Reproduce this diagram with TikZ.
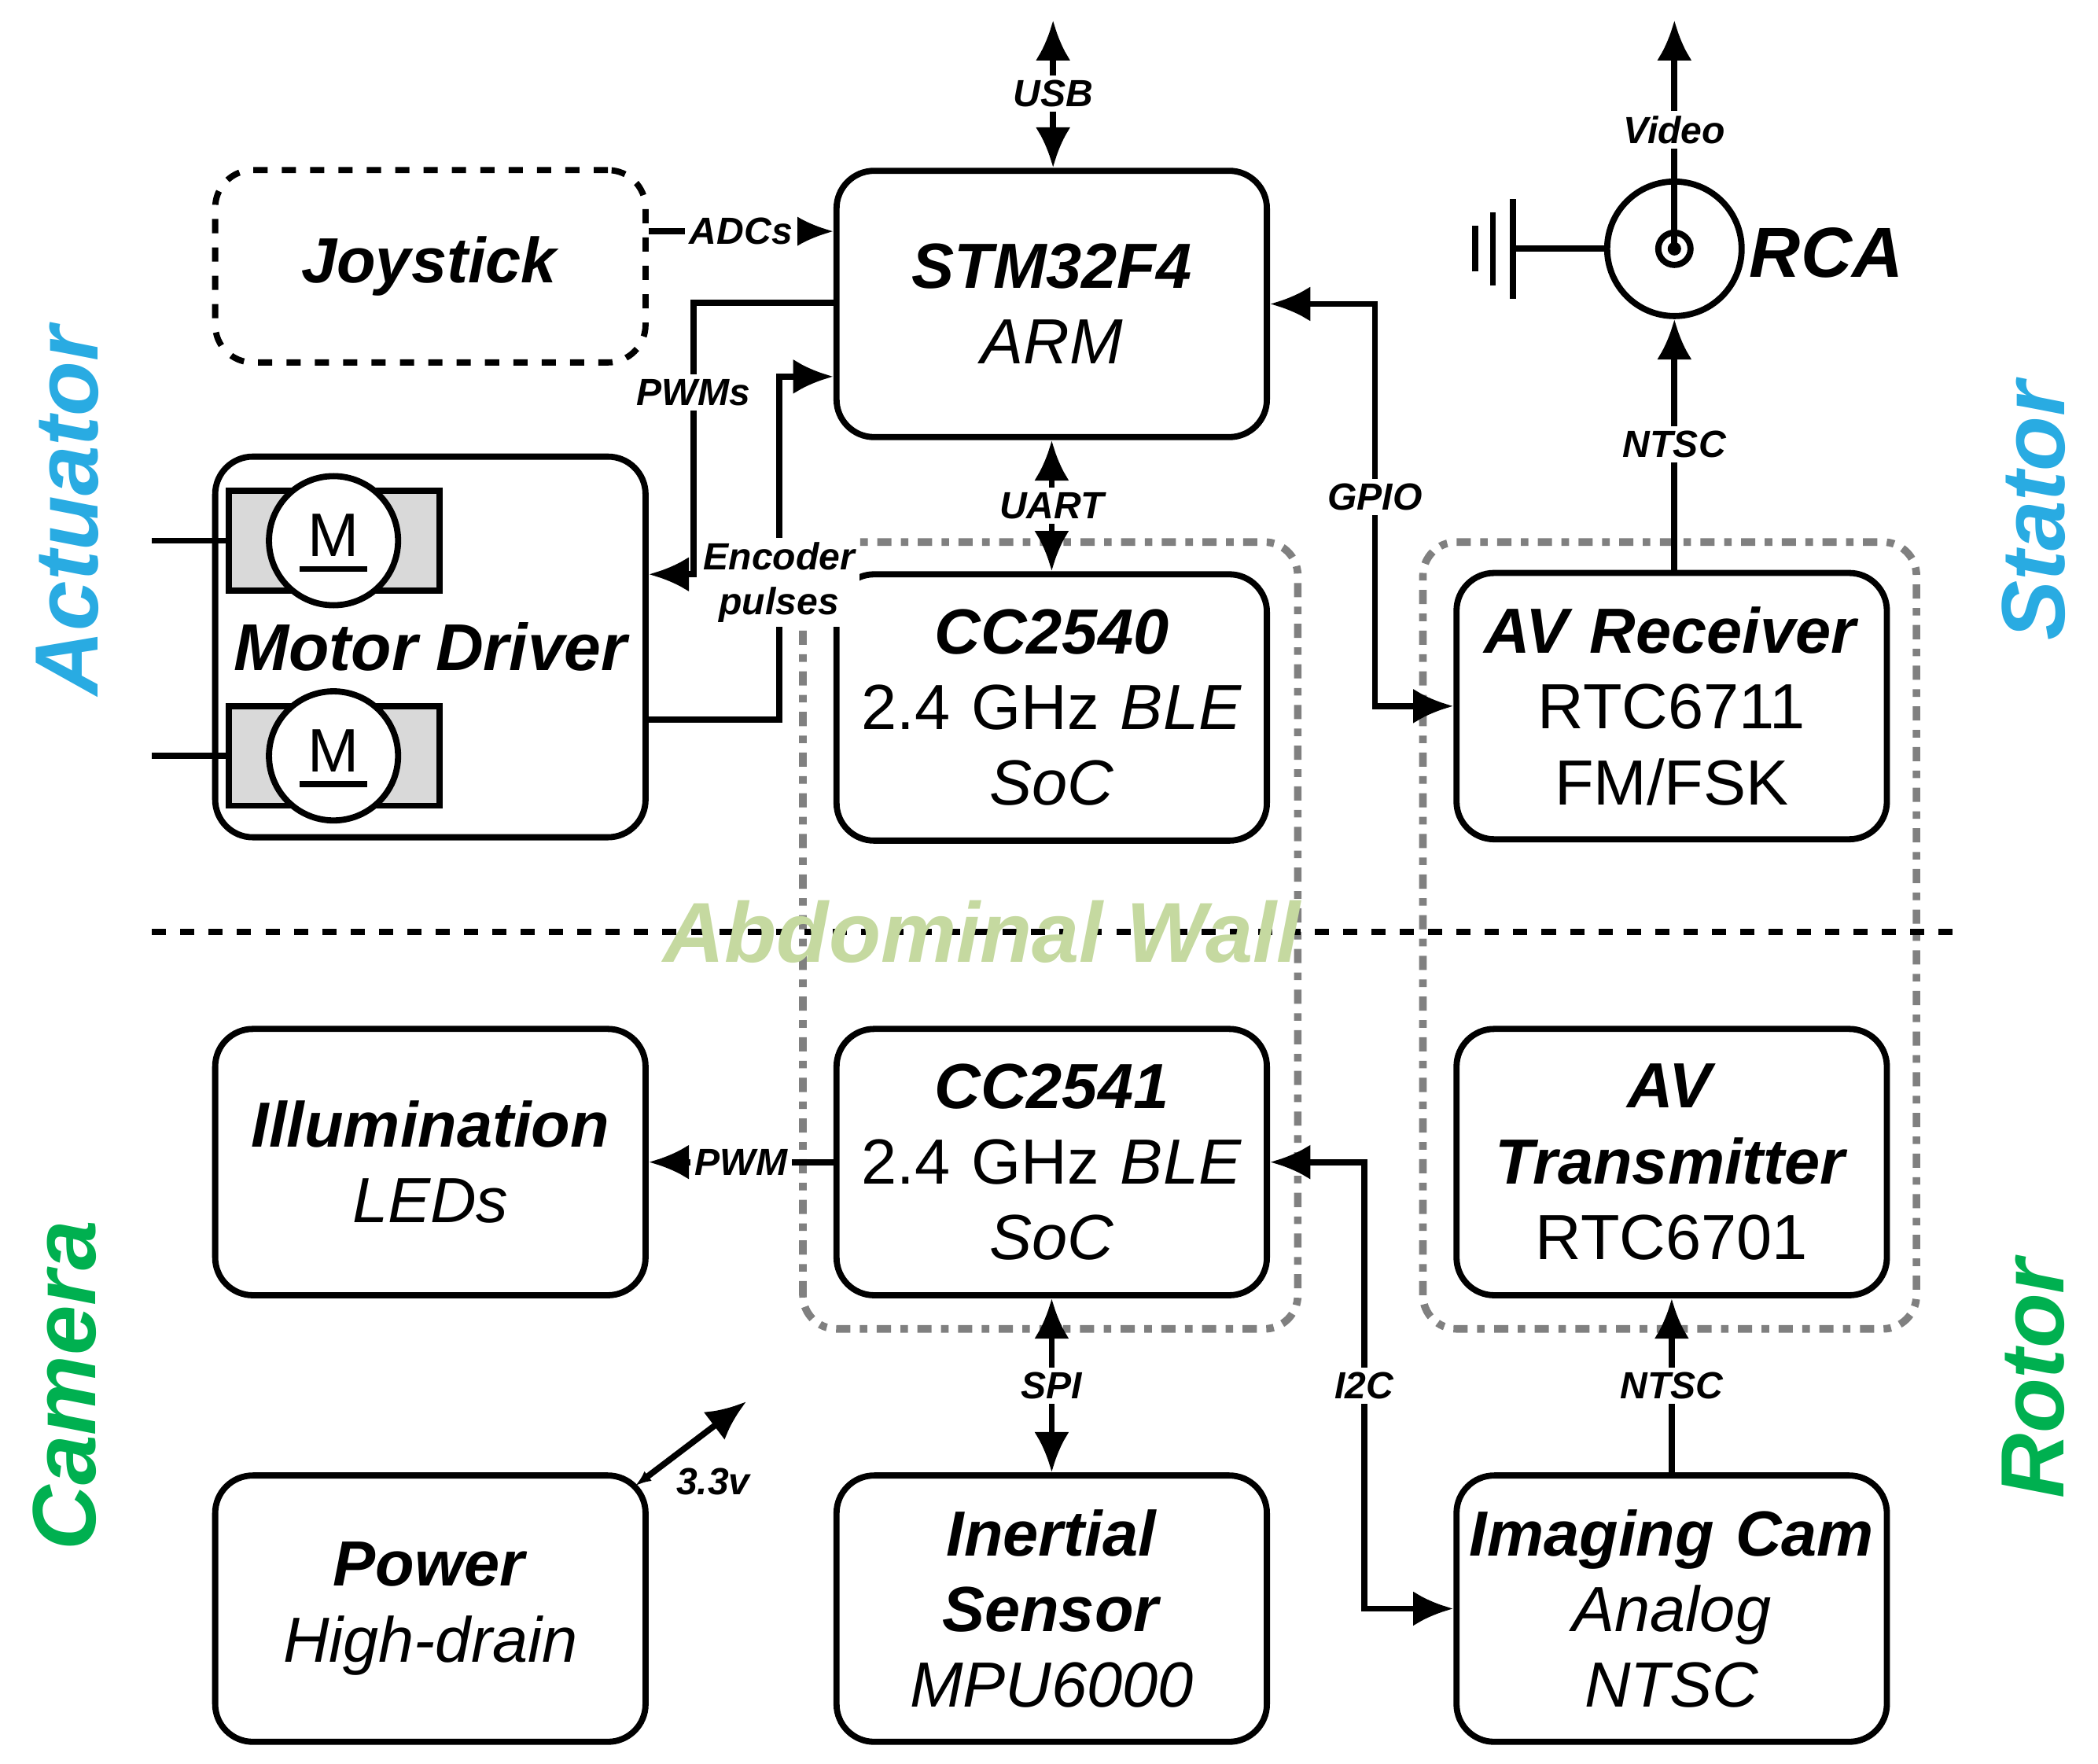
\documentclass[tikz,border=0pt]{standalone}
\usepackage{fontspec}
\setmainfont{Liberation Sans}
\usetikzlibrary{arrows.meta,positioning,calc}
\definecolor{cyanlbl}{HTML}{29ABE2}
\definecolor{greenlbl}{HTML}{00B050}
\definecolor{wallgreen}{HTML}{C5D9A0}
\begin{document}
\begin{tikzpicture}[
   blk/.style={draw,line width=1.3pt,rounded corners=0.28cm,minimum width=3.2cm,minimum height=1.98cm,text width=3.1cm,inner sep=0pt,align=center,font=\fontsize{13.5}{16}\selectfont},
   con/.style={line width=1.3pt},
   arr/.style={con,-{Latex[length=0.3cm,width=0.26cm]}},
   darr/.style={con,{Latex[length=0.3cm,width=0.26cm]}-{Latex[length=0.3cm,width=0.26cm]}},
   lbl/.style={fill=white,inner sep=1pt,font=\fontsize{8}{9.5}\selectfont\bfseries\itshape},
   side/.style={rotate=90,font=\fontsize{19}{22}\selectfont\bfseries\itshape},
   region/.style={draw=gray,line width=1.6pt,dash dot,rounded corners=0.25cm}
]
   \useasboundingbox (0,0) rectangle (15.6,13.11);
   % wall regions
   \draw[region] (5.97,3.23) rectangle (9.65,9.08);
   \draw[region] (10.58,3.23) rectangle (14.25,9.08);
   \draw[con,dashed] (1.13,6.18) -- (14.55,6.18);
   \node[text=wallgreen,font=\fontsize{18}{21}\selectfont\bfseries\itshape] (wall) at (7.30,6.18) {Abdominal Wall};

   % blocks
   \node[blk,dashed,minimum height=1.43cm] (joy) at (3.20,11.13) {\textbf{\textit{Joystick}}};
   \node[blk] (stm) at (7.82,10.85) {\textbf{\textit{STM32F4}}\\\textit{ARM}};
   \node[blk,minimum height=2.83cm] (mot) at (3.20,8.30) {};
   \node[blk] (c40) at (7.82,7.85) {\textbf{\textit{CC2540}}\\2.4 GHz \textit{BLE}\\\textit{SoC}};
   \node[blk] (avr) at (12.43,7.86) {\textbf{\textit{AV Receiver}}\\RTC6711\\FM/FSK};
   \node[blk] (ill) at (3.20,4.47) {\textbf{\textit{Illumination}}\\\textit{LEDs}};
   \node[blk] (c41) at (7.82,4.47) {\textbf{\textit{CC2541}}\\2.4 GHz \textit{BLE}\\\textit{SoC}};
   \node[blk] (avt) at (12.43,4.47) {\textbf{\textit{AV}}\\\textbf{\textit{Transmitter}}\\RTC6701};
   \node[blk] (pwr) at (3.20,1.15) {\textbf{\textit{Power}}\\\textit{High-drain}};
   \node[blk] (imu) at (7.82,1.15) {\textbf{\textit{Inertial}}\\\textbf{\textit{Sensor}}\\\textit{MPU6000}};
   \node[blk] (cam) at (12.43,1.15) {\textbf{\textit{Imaging Cam}}\\\textit{Analog}\\\textit{NTSC}};

   % motors
   \foreach \y/\n in {9.09/ma,7.49/mb} {
      \draw[line width=1.3pt,fill=gray!30] (1.70,\y-0.37) rectangle (3.27,\y+0.37);
      \draw[line width=1.3pt] (1.13,\y) -- (1.70,\y);
      \node[draw,circle,line width=1.3pt,fill=white,minimum size=0.96cm,inner sep=0pt] (\n) at (2.48,\y) {};
      \node[font=\fontsize{13}{15}\selectfont] at (2.48,\y+0.04) {M};
      \draw[line width=1.2pt] (2.23,\y-0.21) -- (2.73,\y-0.21);
   }
   \node[font=\fontsize{14}{16}\selectfont\bfseries\itshape] (motlbl) at (3.20,8.30) {Motor Driver};

   % RCA
   \node[draw,circle,line width=1.3pt,minimum size=1.0cm,inner sep=0pt] (rca) at (12.45,11.26) {};
   \node[draw,circle,line width=1.3pt,minimum size=0.24cm,inner sep=0pt] (rcain) at (rca.center) {};
   \fill (rca.center) circle (0.05);
   \node[font=\fontsize{15}{18}\selectfont\bfseries\itshape] (rcalbl) at (13.58,11.23) {RCA};
   \coordinate (gnd) at (11.25,11.26);
   \draw[con] (rca.west) -- (gnd);
   \draw[con] (11.25,10.89) -- (11.25,11.63);
   \draw[con] (11.10,10.99) -- (11.10,11.53);
   \draw[con] (10.97,11.09) -- (10.97,11.43);
   \coordinate (vid) at (12.45,12.96);
   \draw[arr] (rca.center) -- (vid) node[lbl,pos=0.52] {Video};
   \draw[arr] (avr.north -| rca) -- (rca.south) node[lbl,midway] {NTSC};

   % connectors
   \coordinate (usb) at (7.83,12.96);
   \draw[darr] (usb) -- (stm.north -| usb) node[lbl,midway] {USB};
   \draw[arr] ([yshift=0.26cm]joy.east) -- ([yshift=0.54cm]stm.west) node[lbl,midway] {ADCs};
   \draw[arr] ([yshift=0.01cm]stm.west) -- ++(-1.04,0) |- ([yshift=0.54cm]mot.east) node[lbl,pos=0.165] {PWMs};
   \draw[arr] ([yshift=-0.54cm]mot.east) -- ++(0.97,0) |- ([yshift=-0.54cm]stm.west) node[lbl,pos=0.2,align=center] {Encoder\\pulses};
   \draw[darr] (stm.south) -- (c40.north) node[lbl,midway] {UART};
   \draw[darr] (stm.east) -- ++(0.78,0) |- (avr.west) node[lbl,pos=0.24] {GPIO};
   \draw[arr] (c41.west) -- (ill.east) node[lbl,midway] {PWM};
   \draw[darr] (c41.east) -- ++(0.70,0) |- (cam.west) node[lbl,pos=0.25] {I2C};
   \draw[darr] (c41.south) -- (imu.north) node[lbl,midway] {SPI};
   \draw[arr] (cam.north) -- (avt.south) node[lbl,midway] {NTSC};
   \coordinate (pwrout) at (5.55,2.69);
   \draw[con,{Latex[length=0.12cm]}-{Latex[length=0.3cm,width=0.26cm]}] ([xshift=-0.1cm,yshift=-0.1cm]pwr.north east) -- (pwrout) node[pos=0.3,below right,inner sep=1pt,font=\fontsize{8}{9.5}\selectfont\bfseries\itshape] {3.3v};

   % side labels
   \node[side,text=cyanlbl] (act) at (0.50,9.31) {Actuator};
   \node[side,text=greenlbl] (camlbl) at (0.48,2.81) {Camera};
   \node[side,text=cyanlbl] (sta) at (15.12,9.31) {Stator};
   \node[side,text=greenlbl] (rot) at (15.12,2.86) {Rotor};
\end{tikzpicture}
\end{document}
